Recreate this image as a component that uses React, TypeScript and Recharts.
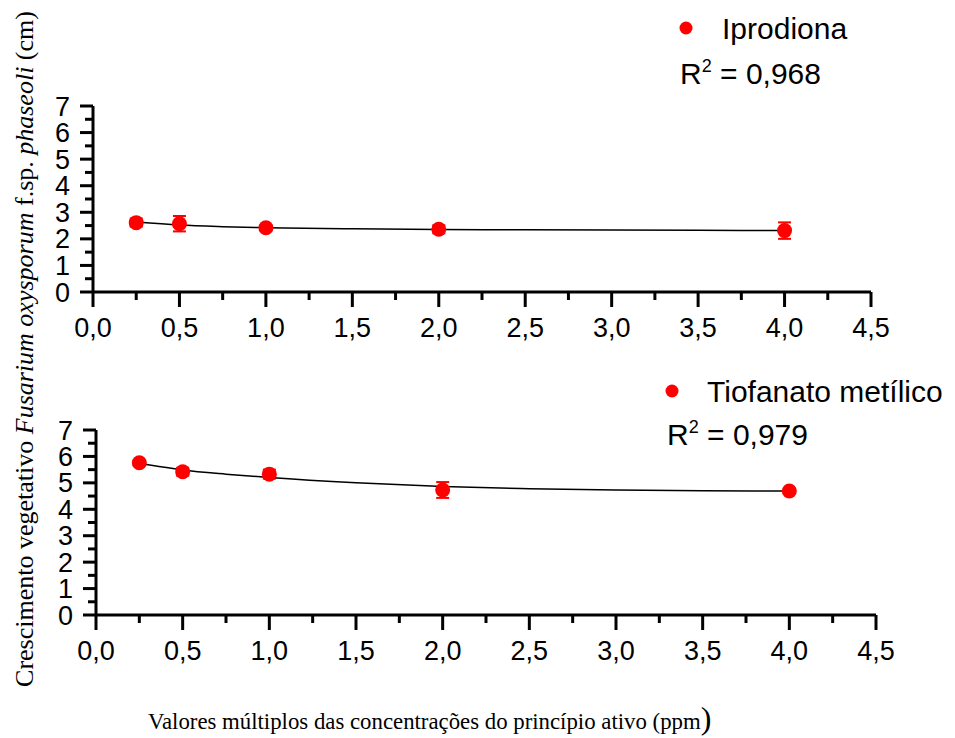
import React from "react";
import { ComposedChart, Scatter, Line, XAxis, YAxis, ErrorBar } from "recharts";

// doses (multiples of the active ingredient concentration)
const doses = [0.25, 0.5, 1, 2, 4];

const iprodionaMean = [2.61, 2.57, 2.42, 2.36, 2.31];
const iprodionaErr = [0.15, 0.29, 0.1, 0.15, 0.31];
const iprodionaFitX = [0.25, 0.5, 0.75, 1, 1.5, 2, 2.5, 3, 3.5, 4];
const iprodionaFitY = [2.63, 2.52, 2.46, 2.42, 2.38, 2.35, 2.34, 2.33, 2.32, 2.31];

const tiofanatoMean = [5.76, 5.42, 5.33, 4.73, 4.69];
const tiofanatoErr = [0.1, 0.15, 0.17, 0.3, 0.05];
const tiofanatoFitX = [0.25, 0.5, 0.75, 1, 1.5, 2, 2.5, 3, 3.5, 4];
const tiofanatoFitY = [5.74, 5.49, 5.33, 5.2, 5.0, 4.86, 4.78, 4.73, 4.7, 4.69];

const xTicks = [0, 0.25, 0.5, 0.75, 1, 1.25, 1.5, 1.75, 2, 2.25, 2.5, 2.75, 3, 3.25, 3.5, 3.75, 4, 4.25, 4.5];
const yTicks = [0, 0.5, 1, 1.5, 2, 2.5, 3, 3.5, 4, 4.5, 5, 5.5, 6, 6.5, 7];

const SANS = "'Liberation Sans', Arial, sans-serif";
const SERIF = "'Liberation Serif', 'Times New Roman', serif";
const RED = "#ff0000";

const isMajorX = (v: number) => Math.abs(v * 2 - Math.round(v * 2)) < 1e-6;
const isMajorY = (v: number) => Math.abs(v - Math.round(v)) < 1e-6;

function XTick(props: any) {
  const { x, y, payload } = props;
  const major = isMajorX(payload.value);
  return (
    <g>
      <line x1={x} y1={y} x2={x} y2={y + (major ? 15 : 8)} stroke="#000" strokeWidth={3} />
      {major && (
        <text x={x} y={y + 45} textAnchor="middle" fontFamily={SANS} fontSize={27} fill="#000">
          {payload.value.toFixed(1).replace(".", ",")}
        </text>
      )}
    </g>
  );
}

function YTick(props: any) {
  const { x, y, payload } = props;
  const major = isMajorY(payload.value);
  return (
    <g>
      <line x1={x - (major ? 13 : 8)} y1={y} x2={x} y2={y} stroke="#000" strokeWidth={3} />
      {major && (
        <text x={x - 23} y={y + 9.5} textAnchor="end" fontFamily={SANS} fontSize={27} fill="#000">
          {payload.value}
        </text>
      )}
    </g>
  );
}

const Dot = (props: any) => <circle cx={props.cx} cy={props.cy} r={7.5} fill={RED} />;

interface PanelProps {
  top: number;
  plotLeft: number;
  plotRight: number;
  plotTop: number;
  plotBottom: number;
  mean: number[];
  err: number[];
  fitX: number[];
  fitY: number[];
}

function Panel({ top, plotLeft, plotRight, plotTop, plotBottom, mean, err, fitX, fitY }: PanelProps) {
  const width = 955;
  const height = 370;
  const points = doses.map((d, i) => ({ x: d, y: mean[i], err: err[i] }));
  const fit = fitX.map((d, i) => ({ x: d, y: fitY[i] }));
  const yAxisW = 60;
  const xAxisH = 55;
  return (
    <div style={{ position: "absolute", top, left: 0 }}>
      <ComposedChart
        width={width}
        height={height}
        margin={{
          top: plotTop,
          right: width - plotRight,
          left: plotLeft - yAxisW,
          bottom: height - plotBottom - xAxisH,
        }}
      >
        <XAxis
          dataKey="x"
          type="number"
          domain={[0, 4.5]}
          ticks={xTicks}
          interval={0}
          allowDataOverflow
          height={xAxisH}
          tickSize={0}
          tickMargin={0}
          tickLine={false}
          axisLine={{ stroke: "#000", strokeWidth: 3 }}
          tick={<XTick />}
        />
        <YAxis
          dataKey="y"
          type="number"
          domain={[0, 7]}
          ticks={yTicks}
          interval={0}
          allowDataOverflow
          width={yAxisW}
          tickSize={0}
          tickMargin={0}
          tickLine={false}
          axisLine={{ stroke: "#000", strokeWidth: 3 }}
          tick={<YTick />}
        />
        <Scatter data={points} dataKey="y" shape={<Dot />} isAnimationActive={false}>
          <ErrorBar dataKey="err" direction="y" stroke={RED} strokeWidth={2} width={6.5} isAnimationActive={false} />
        </Scatter>
        <Line
          data={fit}
          dataKey="y"
          type="monotone"
          stroke="#000"
          strokeWidth={1.5}
          dot={false}
          activeDot={false}
          isAnimationActive={false}
        />
      </ComposedChart>
    </div>
  );
}

export default function App() {
  return (
    <div style={{ position: "absolute", left: 0, top: 0, width: 955, height: 738, background: "#fff" }}>
      <Panel
        top={0}
        plotLeft={93}
        plotRight={871}
        plotTop={106}
        plotBottom={292}
        mean={iprodionaMean}
        err={iprodionaErr}
        fitX={iprodionaFitX}
        fitY={iprodionaFitY}
      />
      <Panel
        top={340}
        plotLeft={96}
        plotRight={876}
        plotTop={90}
        plotBottom={275}
        mean={tiofanatoMean}
        err={tiofanatoErr}
        fitX={tiofanatoFitX}
        fitY={tiofanatoFitY}
      />
      <svg
        width={955}
        height={738}
        style={{ position: "absolute", left: 0, top: 0, pointerEvents: "none" }}
      >
        <circle cx={686} cy={28} r={6.5} fill={RED} />
        <text x={722} y={39} fontFamily={SANS} fontSize={30} fill="#000">Iprodiona</text>
        <text x={680} y={84} fontFamily={SANS} fontSize={30} fill="#000">
          R<tspan dy={-12} fontSize={18}>2</tspan>
          <tspan dy={12}> = 0,968</tspan>
        </text>

        <circle cx={672} cy={391} r={6.5} fill={RED} />
        <text x={707} y={402} fontFamily={SANS} fontSize={30} fill="#000">Tiofanato metílico</text>
        <text x={667} y={445} fontFamily={SANS} fontSize={30} fill="#000">
          R<tspan dy={-12} fontSize={18}>2</tspan>
          <tspan dy={12}> = 0,979</tspan>
        </text>

        <text
          x={24}
          y={349}
          transform="rotate(-90, 24, 349)"
          textAnchor="middle"
          dominantBaseline="central"
          fontFamily={SERIF}
          fontSize={26}
          fill="#000"
        >
          Crescimento vegetativo <tspan fontStyle="italic">Fusarium oxysporum</tspan> f.sp.{" "}
          <tspan fontStyle="italic">phaseoli</tspan> (cm)
        </text>

        <text x={148} y={729} fontFamily={SERIF} fontSize={22.8} fill="#000">
          Valores múltiplos das concentrações do princípio ativo (ppm<tspan fontSize={32}>)</tspan>
        </text>
      </svg>
    </div>
  );
}
